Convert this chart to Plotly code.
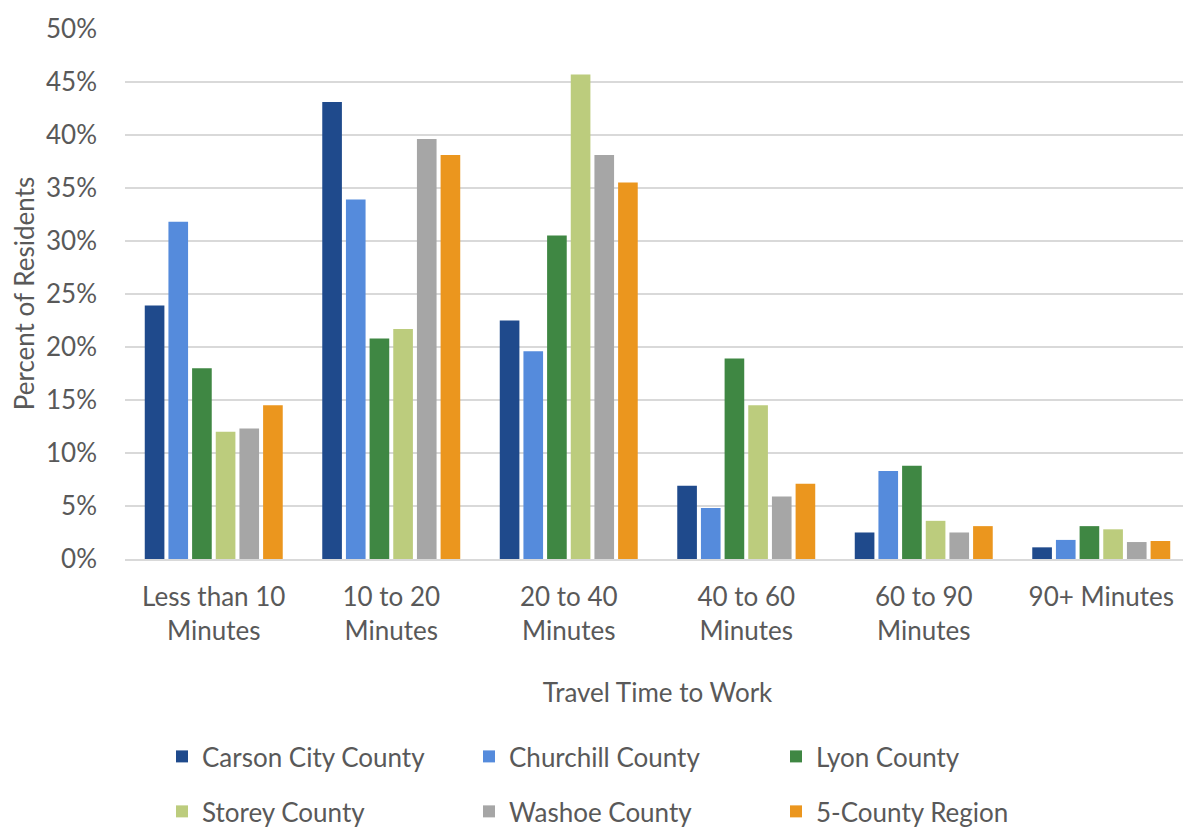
import plotly.graph_objects as go

categories = ["Less than 10<br>Minutes", "10 to 20<br>Minutes", "20 to 40<br>Minutes",
              "40 to 60<br>Minutes", "60 to 90<br>Minutes", "90+ Minutes"]
carson = [23.9, 43.1, 22.5, 6.9, 2.5, 1.1]
churchill = [31.8, 33.9, 19.6, 4.8, 8.3, 1.8]
lyon = [18.0, 20.8, 30.5, 18.9, 8.8, 3.1]
storey = [12.0, 21.7, 45.7, 14.5, 3.6, 2.8]
washoe = [12.3, 39.6, 38.1, 5.9, 2.5, 1.6]
region = [14.5, 38.1, 35.5, 7.1, 3.1, 1.7]

series = [
    ("Carson City County", carson, "#1F4A8C", "legend"),
    ("Churchill County", churchill, "#558BDC", "legend"),
    ("Lyon County", lyon, "#3F8743", "legend"),
    ("Storey County", storey, "#BCCC7D", "legend2"),
    ("Washoe County", washoe, "#A6A6A6", "legend2"),
    ("5-County Region", region, "#EB961E", "legend2"),
]

FONT = "Lato"
TXT = "#595959"
W, H = 1183, 828

fig = go.Figure()
for name, vals, color, lg in series:
    fig.add_trace(go.Bar(
        x=categories, y=[v / 100 for v in vals], name=name,
        marker=dict(color=color, line=dict(width=0)),
        legend=lg,
    ))

legend_common = dict(
    orientation="h", xanchor="left", yanchor="top",
    xref="container", yref="container",
    font=dict(family=FONT, size=26, color=TXT),
    entrywidth=262, entrywidthmode="pixels",
    bgcolor="rgba(0,0,0,0)",
)

fig.update_layout(
    width=W, height=H,
    margin=dict(l=117, r=1, t=20, b=277),
    paper_bgcolor="white", plot_bgcolor="white",
    barmode="group", bargap=0.2, bargroupgap=0.17,
    font=dict(family=FONT, size=26, color=TXT),
    legend=dict(x=154 / W, y=0.1244, **legend_common),
    legend2=dict(x=154 / W, y=0.058, **legend_common),
    xaxis=dict(
        title=dict(text="Travel Time to Work", font=dict(family=FONT, size=26, color=TXT), standoff=39),
        tickfont=dict(family=FONT, size=26, color=TXT),
        showline=True, linecolor="#D9D9D9", linewidth=1.5,
        ticks="", showgrid=False, ticklabelstandoff=14,
    ),
    yaxis=dict(
        title=dict(text="Percent of Residents", font=dict(family=FONT, size=26, color=TXT), standoff=15),
        tickfont=dict(family=FONT, size=26, color=TXT),
        range=[0, 0.5008], dtick=0.05, tickformat=".0%",
        showgrid=True, gridcolor="#D9D9D9", gridwidth=1.5,
        zeroline=False, ticks="", ticklabelstandoff=27,
    ),
)

fig.write_html("out.html")
